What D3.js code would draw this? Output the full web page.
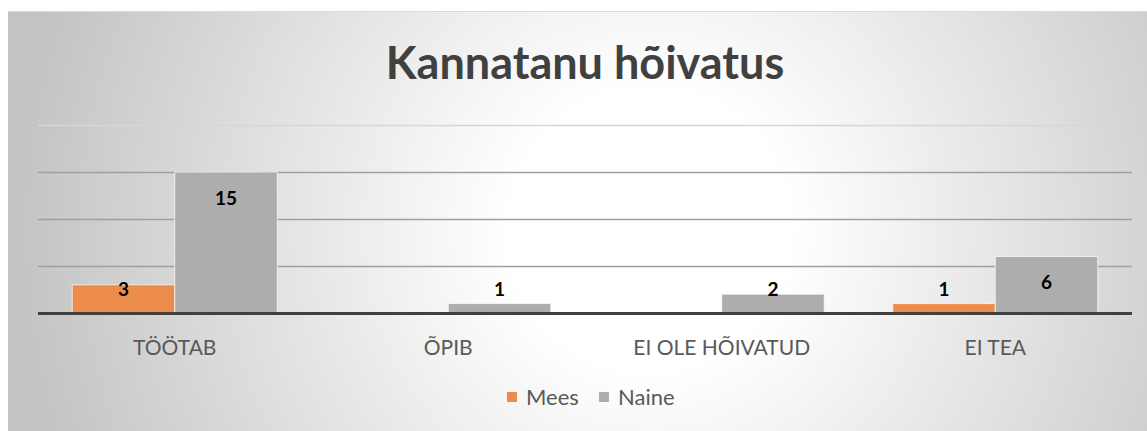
<!DOCTYPE html>
<meta charset="utf-8">
<script src="https://cdn.jsdelivr.net/npm/d3@7"></script>
<style>
body{margin:0;background:#fff;}
svg{display:block;font-family:Lato,"Open Sans",sans-serif;}
</style>
<body>
<div id="chart"></div>
<script>
var categories = ["TÖÖTAB", "ÕPIB", "EI OLE HÕIVATUD", "EI TEA"];
var seriesNames = ["Mees", "Naine"];
var mees = [3, 0, 0, 1];
var naine = [15, 1, 2, 6];
var yTicks = [5, 10, 15, 20];
var colors = ["#ec8c4a", "#adadad"];

var W = 1147, H = 431;
var svg = d3.select("#chart").append("svg").attr("width", W).attr("height", H);

// background gradient
var defs = svg.append("defs");
var grad = defs.append("radialGradient").attr("id", "bg")
    .attr("gradientUnits", "userSpaceOnUse")
    .attr("cx", 650).attr("cy", 230).attr("r", 640);
grad.append("stop").attr("offset", 0).attr("stop-color", "#ffffff");
grad.append("stop").attr("offset", 0.22).attr("stop-color", "#ffffff");
grad.append("stop").attr("offset", 1).attr("stop-color", "#c3c3c3");

svg.append("rect").attr("x", 8).attr("y", 11).attr("width", W - 8).attr("height", H - 11)
    .attr("fill", "url(#bg)");
svg.append("line").attr("x1", 8).attr("x2", W).attr("y1", 11.5).attr("y2", 11.5)
    .attr("stroke", "#d9d9d9");

var x0 = d3.scaleBand().domain(categories).range([38, 1132]).padding(0);
var x1 = d3.scaleBand().domain(seriesNames).range([0, x0.bandwidth()]).paddingOuter(0.334).paddingInner(0);
var y = d3.scaleLinear().domain([0, 20]).range([313, 125]);

// gridlines
svg.append("g").selectAll("line").data(yTicks).enter().append("line")
    .attr("x1", 38).attr("x2", 1132)
    .attr("y1", function(d){ return Math.round(y(d)) + 0.5; })
    .attr("y2", function(d){ return Math.round(y(d)) + 0.5; })
    .attr("stroke", function(d){ return d == 20 ? "#d6d6d6" : "#9f9f9f"; })
    .attr("stroke-width", 1.5);

var rows = [];
categories.forEach(function(c, i){
  rows.push({cat: c, s: "Mees", v: mees[i], c: colors[0]});
  rows.push({cat: c, s: "Naine", v: naine[i], c: colors[1]});
});
var shown = rows.filter(function(d){ return d.v > 0; });

svg.append("g").selectAll("rect").data(shown).enter().append("rect")
    .attr("x", function(d){ return x0(d.cat) + x1(d.s); })
    .attr("y", function(d){ return y(d.v); })
    .attr("width", x1.bandwidth())
    .attr("height", function(d){ return y(0) - y(d.v); })
    .attr("fill", function(d){ return d.c; })
    .attr("stroke", "rgba(255,255,255,0.7)")
    .attr("stroke-width", 1);

// baseline
svg.append("line").attr("x1", 38).attr("x2", 1132).attr("y1", y(0) + 0.5).attr("y2", y(0) + 0.5)
    .attr("stroke", "#404040").attr("stroke-width", 3);

// value labels
svg.append("g").selectAll("text").data(shown).enter().append("text")
    .attr("x", function(d){ return x0(d.cat) + x1(d.s) + x1.bandwidth() / 2; })
    .attr("y", function(d){ return Math.min(y(d.v) + 26, 289); })
    .attr("dy", "0.35em")
    .attr("text-anchor", "middle")
    .attr("font-size", 19).attr("font-weight", "bold").attr("fill", "#000")
    .text(function(d){ return d.v; });

// category axis
var ax = svg.append("g").attr("transform", "translate(0," + 315 + ")")
    .call(d3.axisBottom(x0).tickSize(0).tickPadding(0));
ax.select(".domain").remove();
ax.selectAll("text").attr("y", 33).attr("dy", "0.35em")
    .attr("font-size", 21).attr("font-family", "Lato").attr("fill", "#595959");

// title
svg.append("text").attr("x", 585).attr("y", 63).attr("dy", "0.35em")
    .attr("text-anchor", "middle").attr("font-size", 45).attr("font-weight", "bold")
    .attr("fill", "#404040").text("Kannatanu hõivatus");

// legend
var leg = svg.append("g").selectAll("g").data(seriesNames).enter().append("g")
    .attr("transform", function(d, i){ return "translate(" + (i == 0 ? 507 : 599) + ",392)"; });
leg.append("rect").attr("width", 10).attr("height", 10)
    .attr("fill", function(d, i){ return colors[i]; });
leg.append("text").attr("x", 19).attr("y", 5).attr("dy", "0.35em")
    .attr("font-size", 22).attr("fill", "#595959").text(function(d){ return d; });
</script>
</body>
